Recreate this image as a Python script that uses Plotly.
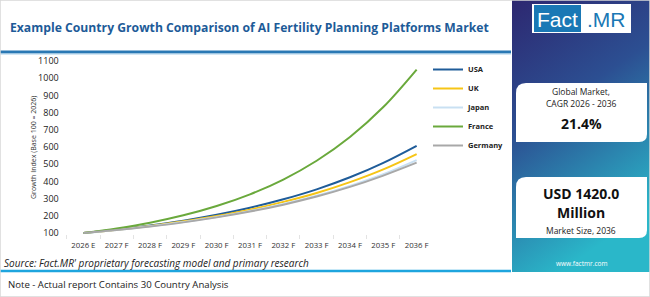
import base64
import plotly.graph_objects as go

years = ["2026 E", "2027 F", "2028 F", "2029 F", "2030 F", "2031 F",
         "2032 F", "2033 F", "2034 F", "2035 F", "2036 F"]
usa = [100, 120, 144, 172, 206, 247, 296, 354, 424, 508, 607]
uk = [100, 119, 141, 168, 199, 236, 281, 333, 396, 470, 559]
japan = [100, 118, 139, 164, 193, 228, 269, 317, 374, 442, 524]
france = [100, 127, 160, 203, 257, 325, 411, 520, 658, 832, 1050]
germany = [100, 117, 138, 162, 191, 225, 265, 312, 368, 434, 509]
y_ticks = [100, 200, 300, 400, 500, 600, 700, 800, 900, 1000, 1100]

series = [("USA", usa, "#1f5c99"), ("UK", uk, "#f6c516"),
          ("Japan", japan, "#c9e0f2"), ("France", france, "#6aa93c"),
          ("Germany", germany, "#a8a8a8")]

W, H = 650, 297
def px(x):
    return x / W
def py(y):
    return 1 - y / H

FONT = "Open Sans"
fig = go.Figure()
for i, (name, vals, col) in enumerate(series):
    fig.add_trace(go.Scatter(x=years, y=vals, name=name, mode="lines",
                             line=dict(color=col, width=2, shape="spline")))

svg = ('<svg xmlns="http://www.w3.org/2000/svg" width="138" height="272">'
       '<defs><linearGradient id="g" x1="0" y1="0" x2="0.35" y2="1">'
       '<stop offset="0" stop-color="#2d2770"/>'
       '<stop offset="0.45" stop-color="#2c4f92"/>'
       '<stop offset="1" stop-color="#2ab7c9"/>'
       '</linearGradient></defs>'
       '<rect width="138" height="272" fill="url(#g)"/></svg>')
src = "data:image/svg+xml;base64," + base64.b64encode(svg.encode()).decode()

shapes = [
    dict(type="line", xref="paper", yref="paper", x0=0, x1=px(511), y0=py(52), y1=py(52),
         line=dict(color="#2a78b4", width=3)),
    dict(type="line", xref="paper", yref="paper", x0=0, x1=px(511), y0=py(54), y1=py(54),
         line=dict(color="#a9cfe9", width=1)),
    dict(type="line", xref="paper", yref="paper", x0=0, x1=px(511), y0=py(271), y1=py(271),
         line=dict(color="#1ea5de", width=2.5)),
    dict(type="rect", xref="paper", yref="paper", x0=px(532), x1=px(631), y0=py(33), y1=py(4),
         fillcolor="white", line=dict(width=0)),
    dict(type="rect", xref="paper", yref="paper", x0=px(534), x1=px(581), y0=py(32), y1=py(5),
         fillcolor="#1a78b5", line=dict(width=0)),
    dict(type="path", xref="paper", yref="paper",
         path=f"M {px(526)},{py(83)} L {px(647)},{py(83)} L {px(647)},{py(134)} "
              f"Q {px(647)},{py(142)} {px(639)},{py(142)} L {px(516)},{py(142)} L {px(516)},{py(93)} "
              f"Q {px(516)},{py(83)} {px(526)},{py(83)} Z",
         fillcolor="white", line=dict(width=0)),
    dict(type="path", xref="paper", yref="paper",
         path=f"M {px(526)},{py(177)} L {px(647)},{py(177)} L {px(647)},{py(230)} "
              f"Q {px(647)},{py(238)} {px(639)},{py(238)} L {px(516)},{py(238)} L {px(516)},{py(187)} "
              f"Q {px(516)},{py(177)} {px(526)},{py(177)} Z",
         fillcolor="white", line=dict(width=0)),
    dict(type="rect", xref="paper", yref="paper", x0=0, x1=1, y0=0, y1=1,
         line=dict(color="#d8d8d8", width=1.5), fillcolor="rgba(0,0,0,0)"),
]

def ann(text, x, y, size, color="#222", bold=False, italic=False, xanchor="left", family=FONT, angle=0):
    t = text
    if bold:
        t = f"<b>{t}</b>"
    if italic:
        t = f"<i>{t}</i>"
    return dict(text=t, xref="paper", yref="paper", x=px(x), y=py(y), xanchor=xanchor,
                yanchor="middle", showarrow=False, textangle=angle,
                font=dict(size=size, color=color, family=family))

annotations = [
    ann("Example Country Growth Comparison of AI Fertility Planning Platforms Market", 8, 27, 12.2,
        color="#1d5b98", bold=True),
    ann("Growth Index (Base 100 = 2026)", 33, 148, 7, color="#333", xanchor="center", angle=-90),
    ann("Source: Fact.MR' proprietary forecasting model and primary research", 2, 263, 10,
        color="#222", italic=True),
    ann("Note - Actual report Contains 30 Country Analysis", 6, 284, 9.6, color="#222"),
    ann("Fact", 557.5, 19, 21, color="white", xanchor="center", family="Liberation Sans"),
    ann(".MR", 606, 19, 21, color="#1a78b5", xanchor="center", family="Liberation Sans"),
    ann("Global Market,", 581, 91, 8.5, color="#222", xanchor="center"),
    ann("CAGR 2026 - 2036", 581, 104, 8.5, color="#222", xanchor="center"),
    ann("21.4%", 581, 123, 14, color="#111", bold=True, xanchor="center"),
    ann("USD 1420.0", 581, 193, 14, color="#111", bold=True, xanchor="center"),
    ann("Million", 581, 212, 14, color="#111", bold=True, xanchor="center"),
    ann("Market Size, 2036", 581, 230, 8.5, color="#222", xanchor="center"),
    ann("www.factmr.com", 581, 263, 6.5, color="white", xanchor="center"),
]

fig.update_layout(
    width=W, height=H, autosize=False, margin=dict(l=0, r=0, t=0, b=0, autoexpand=False),
    paper_bgcolor="white", plot_bgcolor="white",
    showlegend=True,
    legend=dict(x=px(428), y=py(55), xanchor="left", yanchor="top",
                font=dict(size=7.5, family=FONT, color="#222", weight="bold"),
                bgcolor="rgba(0,0,0,0)", tracegroupgap=0),
    xaxis=dict(domain=[px(66.7), px(433.3)], type="category", categoryorder="array",
               categoryarray=years, range=[-0.5, 10.5], tickangle=0, automargin=False,
               showgrid=False, zeroline=False, showline=False,
               ticks="outside", tickson="boundaries", ticklen=4, tickcolor="#e3e3e3",
               ticklabelstandoff=5,
               tickfont=dict(size=7.8, family=FONT, color="#333")),
    yaxis=dict(domain=[py(233.9), py(60.1)], range=[95, 1105], tickvals=y_ticks,
               showgrid=False, zeroline=False, showline=False, ticks="", automargin=False,
               ticklabelstandoff=7,
               tickfont=dict(size=9, family=FONT, color="#222")),
    images=[dict(source=src, xref="paper", yref="paper", x=px(512), y=1, sizex=px(650) - px(512),
                 sizey=1 - py(272), xanchor="left", yanchor="top", sizing="stretch", layer="below")],
    shapes=shapes, annotations=annotations,
)
fig.write_html("out.html", config={"responsive": False})
